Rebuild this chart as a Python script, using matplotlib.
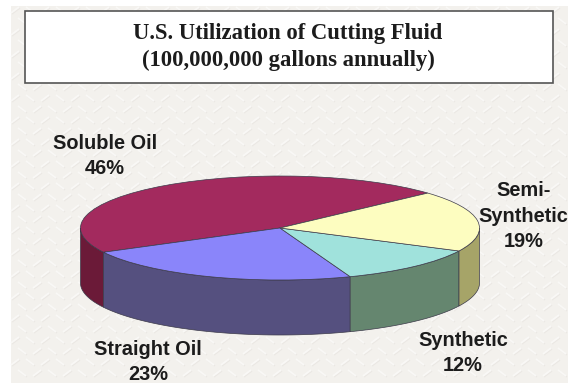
import numpy as np
import matplotlib
matplotlib.use('Agg')
import matplotlib.pyplot as plt
from matplotlib.patches import Wedge, Polygon, Rectangle
from matplotlib.transforms import Affine2D
from matplotlib.collections import LineCollection

# Share of annual use, percent
categories = ['Soluble Oil', 'Straight Oil', 'Synthetic', 'Semi-\nSynthetic']
shares = [46, 23, 12, 19]
top_colors = ['#a32a5e', '#8a85fa', '#a0e2dc', '#fdfdc0']
side_colors = ['#6b1a38', '#55507f', '#65866f', '#a6a468']
label_pos = [(105, 156), (148, 362), (463, 353), (523.5, 216)]

title_lines = 'U.S. Utilization of Cutting Fluid\n(100,000,000 gallons annually)'

START_ANGLE = 42.2
CX, CY = 280, 228
RX, RY = 199.5, 52
DEPTH = 55

fig = plt.figure(figsize=(5.68, 3.83), dpi=100, facecolor='white')
ax = fig.add_axes([0, 0, 1, 1])
ax.set_xlim(0, 568)
ax.set_ylim(383, 0)
ax.axis('off')


def draw_background():
    ax.add_patch(Rectangle((11, 6), 557, 377, fc='#f3f1ed', ec='none', zorder=0))
    light, dark = [], []
    for row, y in enumerate(range(10, 383, 11)):
        for col, x in enumerate(range(15, 568, 15)):
            x0 = x + (row % 2) * 7
            if (row + col) % 2 == 0:
                light.append([(x0 - 4, y + 3), (x0 + 4, y - 3)])
                dark.append([(x0 - 3, y + 4), (x0 + 5, y - 2)])
            else:
                light.append([(x0 - 4, y - 3), (x0 + 4, y + 3)])
                dark.append([(x0 - 3, y - 2), (x0 + 5, y + 4)])
    ax.add_collection(LineCollection(dark, colors='#ebe8e4', linewidths=1.0, zorder=1))
    ax.add_collection(LineCollection(light, colors='#f9f8f6', linewidths=1.3, zorder=1))


def draw_pie():
    to_ellipse = Affine2D().scale(RX, -RY).translate(CX, CY) + ax.transData
    start = START_ANGLE
    for share, top, side in zip(shares, top_colors, side_colors):
        end = start + share * 3.6
        # outer wall, only the part facing the viewer
        for lo, hi in [(start, end), (start - 360, end - 360)]:
            lo, hi = max(lo, 180), min(hi, 360)
            if lo < hi:
                t = np.radians(np.linspace(lo, hi, 60))
                xs = CX + RX * np.cos(t)
                ys = CY - RY * np.sin(t)
                pts = list(zip(xs, ys)) + list(zip(xs[::-1], ys[::-1] + DEPTH))
                ax.add_patch(Polygon(pts, closed=True, fc=side, ec='#3c3a4a', lw=0.5, zorder=3))
        ax.add_patch(Wedge((0, 0), 1, start, end, fc=top, ec='#3c3a4a', lw=0.5,
                           transform=to_ellipse, zorder=4))
        start = end


draw_background()
draw_pie()

# title box
ax.add_patch(Rectangle((25, 11), 528, 72, fc='white', ec='#555555', lw=1.2, zorder=5))
ax.text(288, 47, title_lines, ha='center', va='center', fontsize=16.3, fontweight='bold',
        family='Liberation Serif', color='#1c1c1c', linespacing=1.42, zorder=6)

for cat, share, (x, y) in zip(categories, shares, label_pos):
    ax.text(x, y, f'{cat}\n{share}%', ha='center', va='center', fontsize=14.4, fontweight='bold',
            family='Liberation Sans', color='#1c1c1c', linespacing=1.42, zorder=6)

fig.savefig('out.png', dpi=100)
